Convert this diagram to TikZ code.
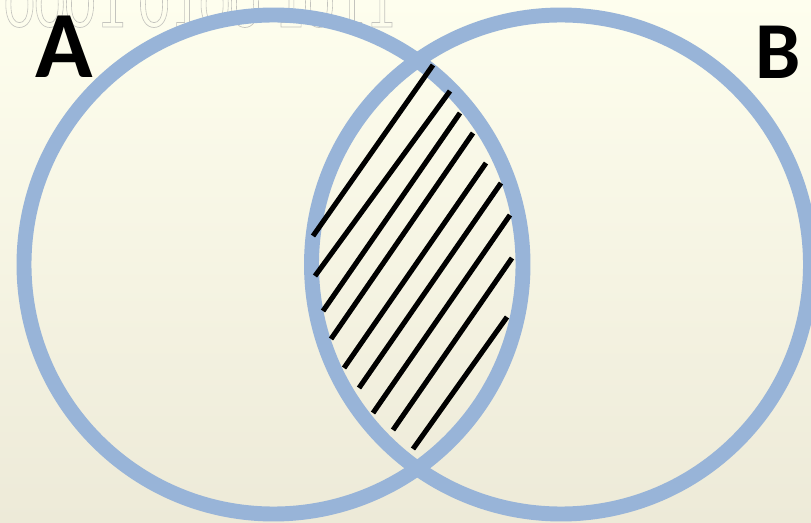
\documentclass[tikz,border=0pt]{standalone}
\usepackage{fontspec}
\newfontfamily\calibri{Carlito}
\definecolor{fundoTopo}{RGB}{254,254,238}
\definecolor{fundoBase}{RGB}{237,234,216}
\definecolor{azulVenn}{RGB}{152,180,216}
\definecolor{cinzaTexto}{RGB}{196,196,190}
\tikzset{
  conjunto/.style={draw=azulVenn,line width=8.5pt},
  hachura/.style={line width=2.9pt},
  rotulo/.style={anchor=base west,inner sep=0pt,font=\calibri\bfseries}
}
\begin{document}
\begin{tikzpicture}[x=0.02cm,y=-0.02cm]
    \useasboundingbox (0,0) rectangle (811,523);
    \clip (0,0) rectangle (811,523);

    % Fundo
    \shade[top color=fundoTopo,bottom color=fundoBase] (0,0) rectangle (811,523);

    % Texto apagado no topo
    \node[anchor=base west,inner sep=0pt,text=cinzaTexto,xscale=0.85,
          font=\calibri\fontsize{40pt}{40pt}\selectfont] (bits) at (4,27)
          {\special{pdf:literal 1 Tr 0.4 w}0001 0100 1011\special{pdf:literal 0 Tr}};

    % Conjuntos A e B
    \coordinate (cA) at (273.5,264.5);
    \coordinate (cB) at (561,264.5);
    \draw[conjunto] (cA) circle[radius=249.5];
    \draw[conjunto] (cB) circle[radius=249.5];

    % Hachuras na intersecção
    \foreach \xa/\ya/\xb/\yb in {313/236/433/65, 315/276/450/91, 323/311/460/113,
        331/339/473/133, 344/368/486/163, 359/388/501/183, 373/413/510/215,
        393/430/512/258, 413/449/507/317}
        \draw[hachura] (\xa,\ya) -- (\xb,\yb);

    % Rótulos
    \node[rotulo,font=\calibri\bfseries\fontsize{54pt}{54pt}\selectfont] (rotA) at (35,78) {A};
    \node[rotulo,font=\calibri\bfseries\fontsize{46pt}{46pt}\selectfont] (rotB) at (755,79) {B};

\end{tikzpicture}
\end{document}
